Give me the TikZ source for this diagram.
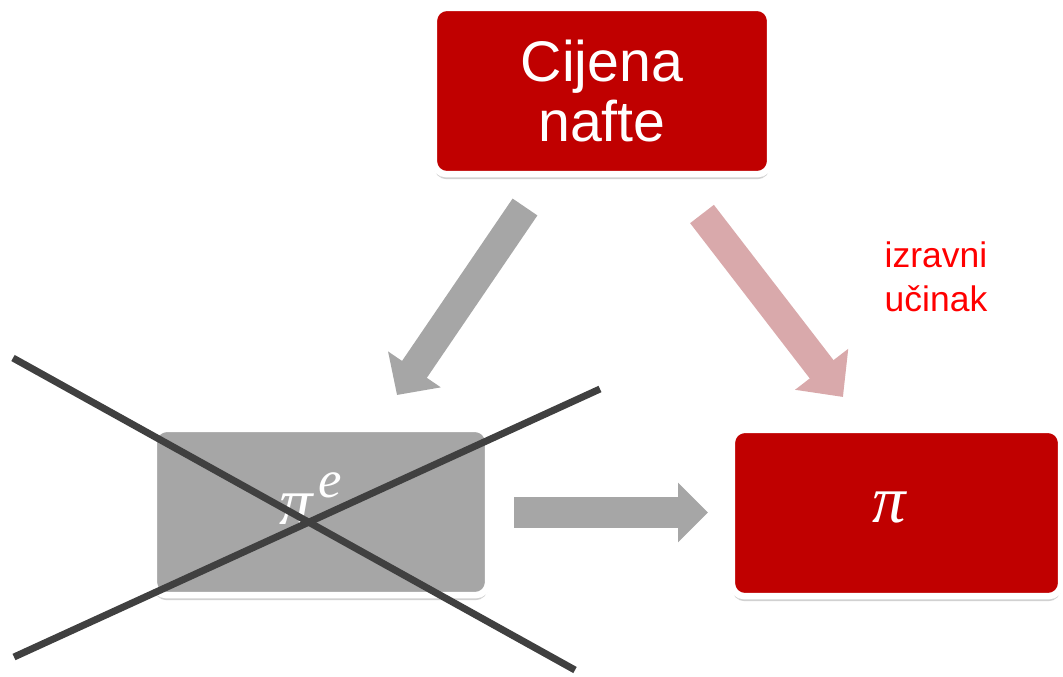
\documentclass[tikz,border=0pt]{standalone}
\usepackage{fontspec}
\setmainfont{Liberation Sans}
\newfontfamily\symbolfont{Liberation Serif}
\usetikzlibrary{arrows.meta,shadows}

\definecolor{boxred}{HTML}{C00000}
\definecolor{boxgray}{HTML}{A6A6A6}
\definecolor{arrowpink}{HTML}{D9A9AB}
\definecolor{crossgray}{HTML}{404040}
\definecolor{labelred}{HTML}{FF0000}

\tikzset{
	box/.style={rectangle, rounded corners=0.26cm, draw=white, line width=0.13cm,
		minimum height=3.33cm,
		drop shadow={shadow xshift=0pt, shadow yshift=-0.1cm, fill=black, opacity=0.18}},
	boxtext/.style={white, font=\symbolfont\itshape\fontsize{38}{40}\selectfont},
	fatarrow/.style={line width=0.6cm, -{Triangle[length=0.62cm, width=1.24cm]}},
	crossline/.style={crossgray, line width=0.14cm},
}

\begin{document}
\begin{tikzpicture}[x=0.02cm, y=-0.02cm]
	\useasboundingbox (0,0) rectangle (1063,677);
	
	%boxes
	\node[box, fill=boxred, minimum width=6.73cm, text=white, align=center,
		font=\fontsize{32.6}{34}\selectfont] (oil) at (602,91) {Cijena\\nafte};
	\node[box, fill=boxgray, minimum width=6.69cm] (expect) at (321,512) {};
	\node[box, fill=boxred, minimum width=6.59cm] (infl) at (896.5,513) {};
	
	\node[boxtext] (expecttext) at ([xshift=-0.2cm, yshift=0.26cm]expect.center) {π\kern0.08em\raisebox{0.4em}{\fontsize{30}{32}\selectfont e}};
	\node[boxtext] (infltext) at ([xshift=-0.14cm, yshift=0.12cm]infl.center) {π};
	
	\node[labelred, align=left, font=\fontsize{20.2}{25}\selectfont] (direct) at (936,277) {izravni\\učinak};
	
	%arrows
	\coordinate (lefttail) at (525,207);
	\coordinate (lefttip) at (397,395);
	\coordinate (righttail) at (702,214);
	\coordinate (righttip) at (843,397);
	\coordinate (midtail) at (514,512.5);
	\coordinate (midtip) at (708,512.5);
	
	\draw[fatarrow, boxgray] (lefttail) -- (lefttip);
	\draw[fatarrow, arrowpink, -{Triangle[length=0.7cm, width=1.3cm]}] (righttail) -- (righttip);
	\draw[fatarrow, boxgray, line width=0.62cm, -{Triangle[length=0.6cm, width=1.16cm]}] (midtail) -- (midtip);
	
	%crossed out
	\draw[crossline] (13,358) -- (575,670);
	\draw[crossline] (600,389) -- (14,657);
\end{tikzpicture}
\end{document}
